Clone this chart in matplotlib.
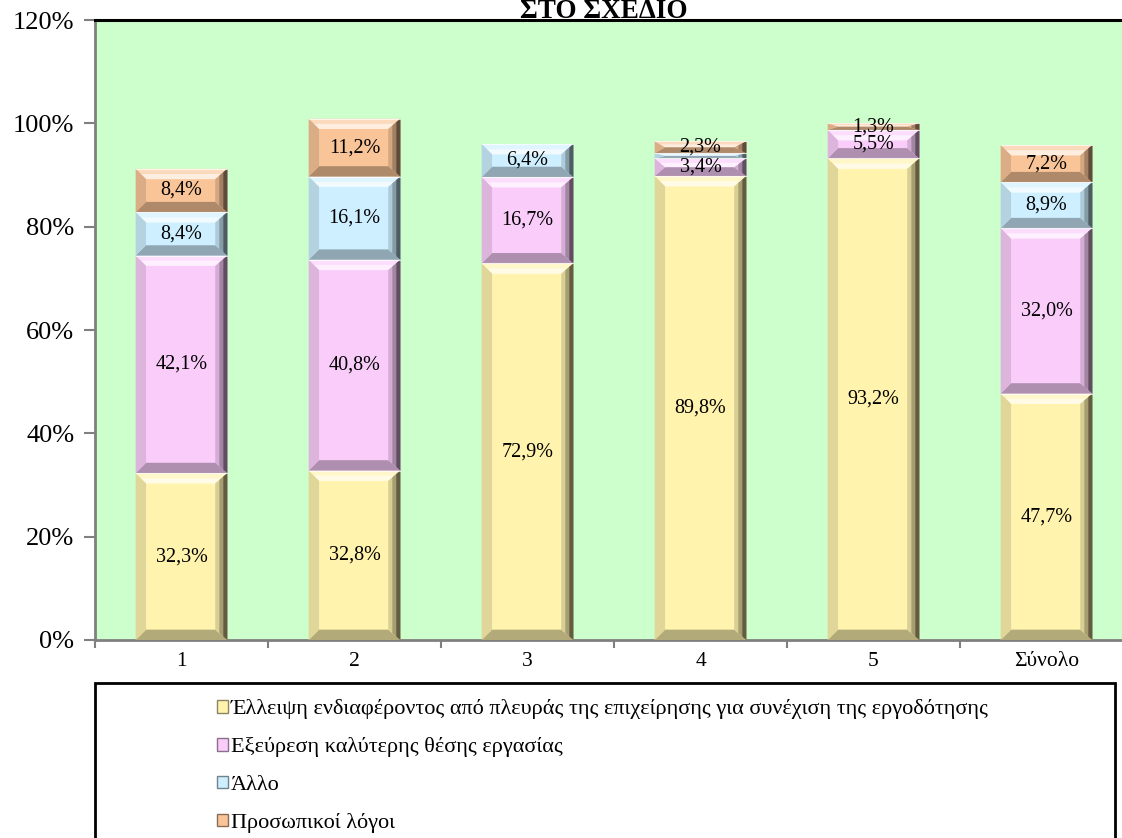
import matplotlib
matplotlib.use("Agg")
import matplotlib.pyplot as plt
from matplotlib.patches import Polygon, Rectangle
import numpy as np

categories = ["1", "2", "3", "4", "5", "Σύνολο"]
series_names = [
    "Έλλειψη ενδιαφέροντος από πλευράς της επιχείρησης για συνέχιση της εργοδότησης",
    "Εξεύρεση καλύτερης θέσης εργασίας",
    "Άλλο",
    "Προσωπικοί λόγοι",
]
lack_interest = [32.3, 32.8, 72.9, 89.8, 93.2, 47.7]
better_job = [42.1, 40.8, 16.7, 3.4, 5.5, 32.0]
other = [8.4, 16.1, 6.4, 1.0, 0.0, 8.9]
personal = [8.4, 11.2, 0.0, 2.3, 1.3, 7.2]
series_values = [lack_interest, better_job, other, personal]
series_colors = ["#FFF3AE", "#FACCFA", "#CDEFFF", "#F9C598"]
y_ticks = [0, 20, 40, 60, 80, 100, 120]
title_text = "ΣΤΟ ΣΧΕΔΙΟ"

plt.rcParams["font.family"] = ["Liberation Serif", "DejaVu Serif"]

W, H = 1122, 838
fig = plt.figure(figsize=(W / 100, H / 100), dpi=100)
ax = fig.add_axes([95 / W, 1 - 640 / H, (1133 - 95) / W, (640 - 20) / H])
ax.set_facecolor("#CCFFCC")


def shade(color, k):
    c = np.array(matplotlib.colors.to_rgb(color))
    if k >= 0:
        return tuple(c + (1 - c) * k)
    return tuple(c * (1 + k))


def bevel(ax, patch, color):
    x0, y0 = patch.get_x(), patch.get_y()
    w, h = patch.get_width(), patch.get_height()
    if h <= 0:
        return
    x1, y1 = x0 + w, y0 + h
    bx = 0.06
    by = min(2.0, h / 2)
    bxr = 0.07
    # top highlight, lighter towards the inside
    ax.add_patch(Polygon([(x0, y1), (x1, y1), (x1 - bxr, y1 - by), (x0 + bx, y1 - by)],
                         closed=True, facecolor=shade(color, 0.35),
                         edgecolor="none", zorder=3))
    ax.add_patch(Polygon([(x0 + bx / 2, y1 - by / 2), (x1 - bxr / 2, y1 - by / 2),
                          (x1 - bxr, y1 - by), (x0 + bx, y1 - by)],
                         closed=True, facecolor=shade(color, 0.7),
                         edgecolor="none", zorder=3))
    ax.add_patch(Polygon([(x0, y0), (x1, y0), (x1 - bxr, y0 + by), (x0 + bx, y0 + by)],
                         closed=True, facecolor=shade(color, -0.3),
                         edgecolor="none", zorder=3))
    ax.add_patch(Polygon([(x0, y0), (x0 + bx, y0 + by), (x0 + bx, y1 - by), (x0, y1)],
                         closed=True, facecolor=shade(color, -0.12),
                         edgecolor="none", zorder=3))
    # right side gets darker towards the edge
    for k, f in [(-0.15, 1.0), (-0.35, 0.66), (-0.62, 0.33)]:
        xa = x1 - bxr * f
        ax.add_patch(Polygon([(x1, y0), (x1, y1), (xa, y1 - by * f), (xa, y0 + by * f)],
                             closed=True, facecolor=shade(color, k),
                             edgecolor="none", zorder=3))
    ax.plot([x0, x1], [y1, y1], color="white", lw=0.8, alpha=0.7, zorder=4)


x = np.arange(len(categories))
width = 0.53
bottom = np.zeros(len(categories))
for name, vals, col in zip(series_names, series_values, series_colors):
    vals = np.array(vals)
    bars = ax.bar(x, vals, width, bottom=bottom, color=col, label=name,
                  edgecolor="none", zorder=2)
    for rect, v in zip(bars, vals):
        bevel(ax, rect, col)
        if v >= 1.2:
            ax.text(rect.get_x() + rect.get_width() / 2,
                    rect.get_y() + v / 2,
                    f"{v:.1f}".replace(".", ",") + "%",
                    ha="center", va="center", fontsize=14.5, zorder=5)
    bottom += vals

ax.set_xlim(-0.5, len(categories) - 0.5)
ax.set_ylim(0, 120)
ax.set_yticks(y_ticks)
ax.set_yticklabels([f"{t}%" for t in y_ticks], fontsize=19)
ax.set_xticks(x)
ax.set_xticklabels(categories, fontsize=15.5)
ax.set_xticks(np.arange(len(categories) + 1) - 0.5, minor=True)
ax.tick_params(axis="x", which="major", length=0, pad=9)
ax.tick_params(axis="x", which="minor", length=6, width=1.5, color="#808080",
               direction="out")
ax.tick_params(axis="y", length=8, width=1.5, color="#808080", pad=7)

for side in ["left", "bottom"]:
    ax.spines[side].set_color("#808080")
    ax.spines[side].set_linewidth(2)
ax.spines["top"].set_color("black")
ax.spines["top"].set_linewidth(2.2)
ax.spines["right"].set_visible(False)

# only the last line of the title fits above the plot area
fig.text(604 / W, 1 - 18.5 / H, title_text, ha="center", va="baseline",
         fontsize=19.5, fontweight="bold")

# legend frame running off the bottom of the picture
fig.patches.append(Rectangle((95 / W, -0.05), (1115 - 95) / W,
                             (838 - 683) / H + 0.05, transform=fig.transFigure,
                             facecolor="white", edgecolor="black", lw=2))
handles, labels = ax.get_legend_handles_labels()
leg = fig.legend(handles, labels, loc="upper left",
                 bbox_to_anchor=(206 / W, 1 - 688 / H), frameon=False,
                 fontsize=16, handlelength=0.5, handleheight=0.5,
                 handletextpad=0.12, labelspacing=0.82, borderpad=0)
for h, col in zip(leg.legend_handles, series_colors):
    h.set_edgecolor(shade(col, -0.45))
    h.set_linewidth(1)

fig.savefig("out.png", dpi=100)
